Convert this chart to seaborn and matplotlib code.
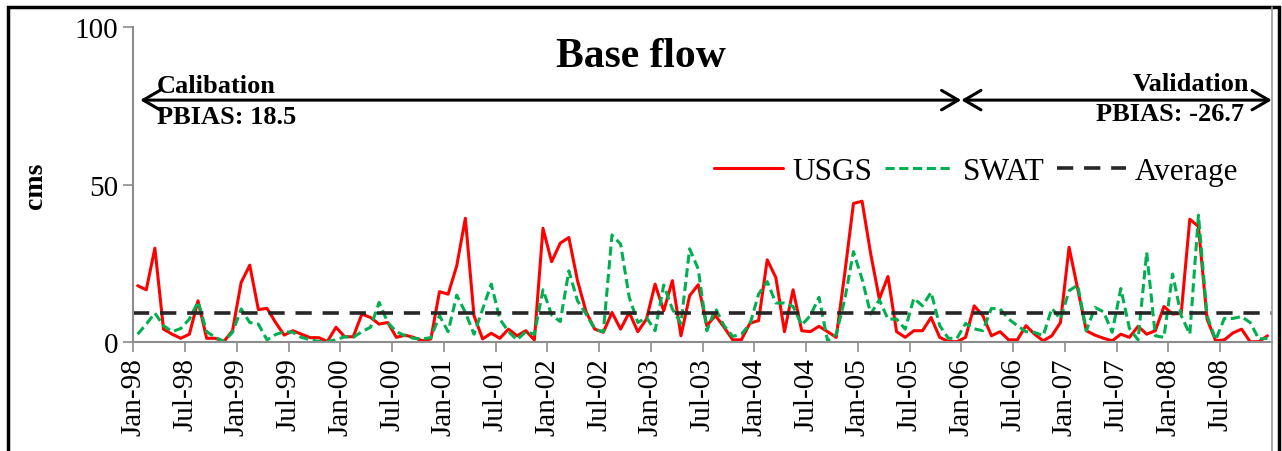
import matplotlib
matplotlib.use('Agg')
import matplotlib.pyplot as plt
from matplotlib.patches import Rectangle
from matplotlib.lines import Line2D
import seaborn as sns
import pandas as pd
import numpy as np

# Monthly base flow, Jan-98 .. Dec-08 (cms)
usgs = [17.9, 16.6, 29.8, 4.1, 2.5, 1.2, 2.5, 13.1, 1.2, 1.2, 0.2, 3.6,
        18.9, 24.4, 10.3, 10.7, 6.2, 2.2, 3.6, 2.5, 1.4, 1.4, 0.2, 4.7,
        1.7, 1.7, 8.9, 7.8, 5.7, 6.2, 1.5, 2.2, 1.5, 0.4, 1.0, 16.0,
        15.2, 24.2, 39.3, 8.4, 1.0, 2.8, 1.2, 4.1, 2.0, 3.6, 0.7, 36.1,
        25.5, 31.4, 33.2, 19.5, 9.6, 4.1, 3.1, 9.4, 4.1, 9.4, 3.3, 7.3,
        18.4, 9.9, 19.5, 2.0, 14.7, 18.2, 5.2, 8.4, 4.7, 0.7, 0.7, 6.0,
        6.8, 26.1, 20.5, 3.3, 16.6, 3.6, 3.3, 5.0, 3.3, 1.5, 22.0, 44.0,
        44.7, 28.0, 13.7, 20.8, 3.3, 1.5, 3.6, 3.6, 7.8, 1.5, 0.2, 0.1,
        1.5, 11.5, 8.4, 2.0, 3.3, 0.7, 0.7, 5.2, 2.5, 0.4, 2.0, 6.2,
        30.1, 16.8, 3.6, 2.2, 1.2, 0.4, 2.5, 1.5, 5.0, 2.5, 3.6, 11.3,
        8.9, 9.1, 39.0, 36.7, 7.3, 0.4, 0.7, 2.9, 4.1, 0.1, 0.1, 2.0]

swat = [2.5, 5.7, 9.2, 5.2, 3.3, 4.3, 7.3, 12.8, 3.3, 1.5, 0.2, 3.1,
        10.5, 6.2, 5.7, 0.7, 2.4, 3.3, 3.1, 1.5, 0.7, 0.2, 0.2, 0.7,
        1.7, 1.5, 3.3, 4.7, 12.6, 6.2, 3.3, 2.0, 1.2, 1.0, 1.4, 8.4,
        3.3, 14.9, 9.4, 2.5, 10.5, 18.4, 7.3, 3.3, 0.7, 3.3, 2.5, 16.6,
        8.6, 6.5, 22.6, 13.1, 8.9, 4.1, 3.3, 34.0, 31.1, 14.2, 6.2, 7.8,
        3.6, 18.1, 10.5, 5.9, 29.6, 23.2, 3.6, 10.7, 5.2, 1.8, 2.5, 5.7,
        15.2, 19.2, 12.4, 12.4, 11.3, 5.4, 8.4, 14.2, 0.4, 2.5, 13.7, 28.7,
        20.0, 8.9, 13.4, 7.3, 7.3, 4.1, 13.9, 11.5, 15.8, 5.2, 1.2, 1.2,
        5.9, 4.2, 3.6, 10.7, 10.5, 7.3, 5.2, 3.3, 3.1, 2.0, 10.7, 7.3,
        16.3, 18.1, 3.6, 11.0, 9.6, 3.1, 17.0, 4.3, 0.7, 28.5, 2.0, 1.5,
        21.6, 8.4, 2.5, 40.3, 8.4, 0.7, 7.5, 7.5, 8.1, 6.2, 1.0, 1.2]

average = 9.3

tick_labels = ['Jan-98', 'Jul-98', 'Jan-99', 'Jul-99', 'Jan-00', 'Jul-00',
               'Jan-01', 'Jul-01', 'Jan-02', 'Jul-02', 'Jan-03', 'Jul-03',
               'Jan-04', 'Jul-04', 'Jan-05', 'Jul-05', 'Jan-06', 'Jul-06',
               'Jan-07', 'Jul-07', 'Jan-08', 'Jul-08']

n = len(usgs)
df = pd.DataFrame({'month': np.arange(n) + 0.5, 'USGS': usgs, 'SWAT': swat})

sns.set_style('white')
plt.rcParams['font.family'] = ['Liberation Serif', 'DejaVu Serif']
plt.rcParams['text.color'] = 'black'
plt.rcParams['axes.labelcolor'] = 'black'
plt.rcParams['xtick.labelcolor'] = 'black'
plt.rcParams['ytick.labelcolor'] = 'black'

fig = plt.figure(figsize=(12.82, 4.52), dpi=100)
ax = fig.add_axes([0.104, 0.241, 0.888, 0.697])

sns.lineplot(data=df, x='month', y='USGS', ax=ax, color='#FF0000', lw=2.2, label='USGS')
sns.lineplot(data=df, x='month', y='SWAT', ax=ax, color='#00B050', lw=2.2,
             dashes=False, label='SWAT').lines[-1].set_dashes([3, 1.5])
ax.axhline(average, color='#262626', lw=2.6, dashes=(4.5, 3), label='Average')

ax.set_xlim(0, n)
ax.set_ylim(0, 100)
ax.set_yticks([0, 50, 100])
ax.set_xticks(np.arange(0, n, 6))
ax.set_xticklabels(tick_labels, rotation=90)
ax.tick_params(axis='both', labelsize=21, direction='out', length=7, width=1.2,
               color='#8c8c8c', left=True, bottom=True, pad=4)
for s in ['top', 'right']:
    ax.spines[s].set_visible(False)
for s in ['left', 'bottom']:
    ax.spines[s].set_color('#8c8c8c')
    ax.spines[s].set_linewidth(1.5)
ax.set_xlabel('')
ax.set_ylabel('cms', fontsize=20, fontweight='bold', labelpad=19)

# title
fig.text(0.5, 0.874, 'Base flow', ha='center', va='center', fontsize=30, fontweight='bold')

# calibration / validation arrows
arr = dict(arrowstyle='<->,head_length=0.6,head_width=0.35', lw=2.2, color='black',
           shrinkA=0, shrinkB=0, mutation_scale=20)
ax.annotate('', xy=(0.8, 76.8), xytext=(96, 76.8), arrowprops=arr)
ax.annotate('', xy=(96, 76.8), xytext=(n, 76.8), arrowprops=arr, annotation_clip=False)
ax.text(2.75, 81.3, 'Calibation', fontsize=19, fontweight='bold', va='center', ha='left')
ax.text(2.75, 71.7, 'PBIAS: 18.5', fontsize=19, fontweight='bold', va='center', ha='left')
ax.text(129.4, 82.2, 'Validation', fontsize=19, fontweight='bold', va='center', ha='right')
ax.text(128.8, 72.4, 'PBIAS: -26.7', fontsize=19, fontweight='bold', va='center', ha='right')

ax.legend(loc='center right', bbox_to_anchor=(0.976, 0.619), bbox_transform=fig.transFigure,
          ncol=3, frameon=False, fontsize=22.5, handlelength=2.2, columnspacing=0.4,
          handletextpad=0.3, borderaxespad=0)

# outer frame
fig.lines.append(Line2D([0.9925, 0.9925], [-0.05, 0.982], transform=fig.transFigure,
                        color='#9a9a9a', lw=1.2))
fig.patches.append(Rectangle((0.0065, -0.05), 0.9915, 1.032, transform=fig.transFigure,
                             fill=False, edgecolor='black', lw=2.5))

fig.savefig('out.png', dpi=100)
